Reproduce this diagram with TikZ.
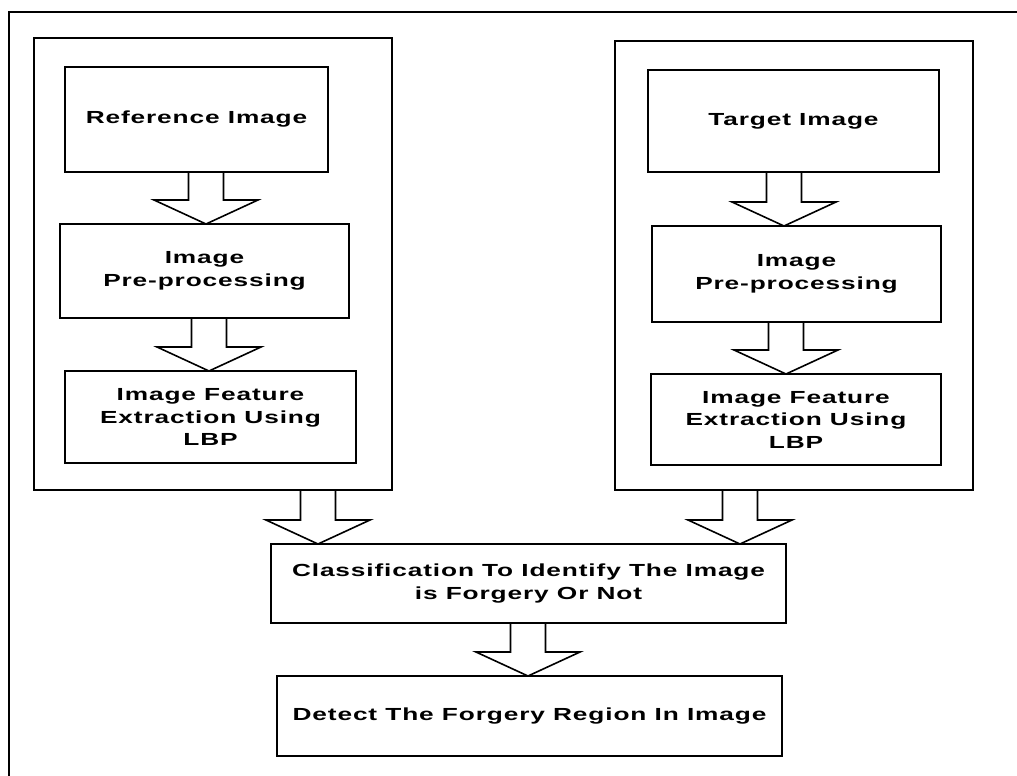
\documentclass[tikz,border=0pt]{standalone}
\usepackage{fontspec}
\setmainfont{Liberation Sans}[FakeStretch=1.5,LetterSpace=5]
\usetikzlibrary{positioning,calc}

% hollow block arrow: shaft x, from the bottom of #2 to the top of #3
\newcommand{\blockarrow}[3]{%
  \draw[fatarrow] let \p2=(#2.south), \p3=(#3.north) in
    (#1pt-17.5pt,\y2) -- (#1pt-17.5pt,\y3+24pt) -- (#1pt-52pt,\y3+24pt) -- (#1pt,\y3)
    -- (#1pt+52pt,\y3+24pt) -- (#1pt+17.5pt,\y3+24pt) -- (#1pt+17.5pt,\y2);}

\begin{document}
\begin{tikzpicture}[x=1pt, y=-1pt, line width=1.6pt,
    box/.style={draw, anchor=north west, align=center, inner sep=0pt, outer sep=0pt,
      font=\fontsize{17.5}{22.5}\selectfont\bfseries},
    frame/.style={draw, anchor=north west, inner sep=0pt, outer sep=0pt},
    fatarrow/.style={line join=miter}]

    \useasboundingbox (0,0) rectangle (1017,776);
    \clip (0,0) rectangle (1017,776);
    \draw (9,12) rectangle (1030,790);

    % Two image columns
    \node[frame, minimum width=358pt, minimum height=452pt] (leftcol) at (34,38) {};
    \node[frame, minimum width=358pt, minimum height=449pt] (rightcol) at (615,41) {};

    % Reference side
    \node[box, minimum width=263pt, minimum height=105pt] (refL) at (65,67) {Reference Image};
    \node[box, minimum width=289pt, minimum height=94pt] (prepL) at (60,224) {Image\\Pre-processing};
    \node[box, minimum width=291pt, minimum height=92pt] (featL) at (65,371) {Image Feature\\Extraction Using\\LBP};

    % Target side
    \node[box, minimum width=291pt, minimum height=102pt] (tgtR) at (648,70) {Target Image};
    \node[box, minimum width=289pt, minimum height=96pt] (prepR) at (652,226) {Image\\Pre-processing};
    \node[box, minimum width=290pt, minimum height=91pt] (featR) at (651,374) {Image Feature\\Extraction Using\\LBP};

    % Decision steps
    \node[box, minimum width=515pt, minimum height=79pt] (classify) at (271,544) {Classification To Identify The Image\\is Forgery Or Not};
    \node[box, minimum width=505pt, minimum height=80pt] (detect) at (277,676) {Detect The Forgery Region In Image};

    % Block arrows
    \blockarrow{206}{refL}{prepL}
    \blockarrow{209}{prepL}{featL}
    \blockarrow{784}{tgtR}{prepR}
    \blockarrow{786}{prepR}{featR}
    \blockarrow{318}{leftcol}{classify}
    \blockarrow{740}{rightcol}{classify}
    \blockarrow{528}{classify}{detect}
\end{tikzpicture}
\end{document}
